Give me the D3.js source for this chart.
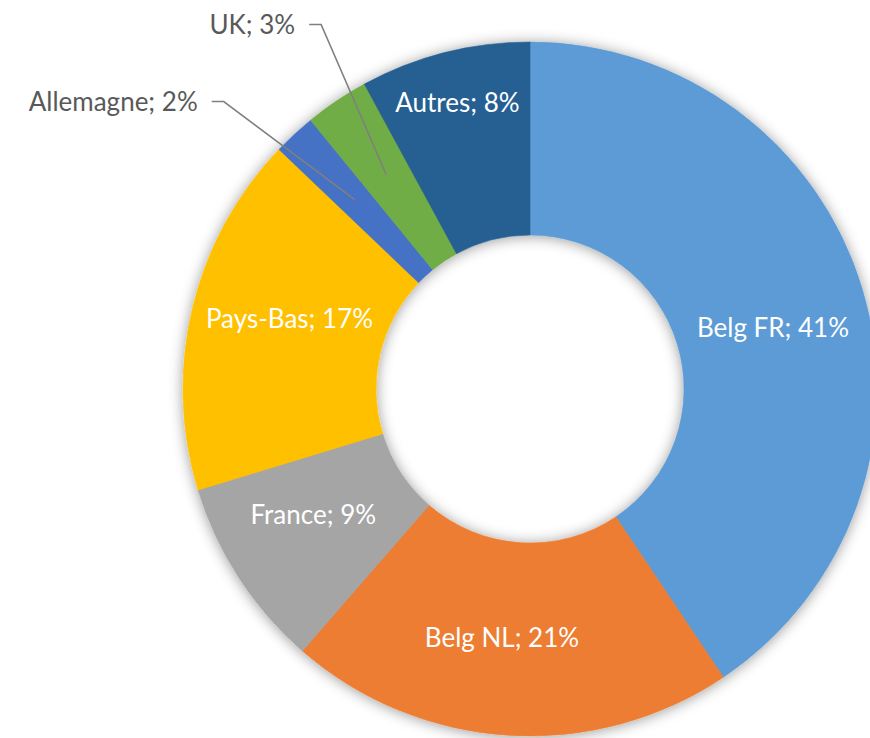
<!DOCTYPE html>
<html>
<head>
<meta charset="utf-8">
<script src="https://cdn.jsdelivr.net/npm/d3@7"></script>
<style>
  body { margin: 0; background: #fff; }
  #graf { width: 870px; height: 738px; }
  text { font-family: Lato, "Open Sans", sans-serif; }
</style>
</head>
<body>
<div id="graf"></div>
<script>
// -- Datos --
categorias = ['Belg FR', 'Belg NL', 'France', 'Pays-Bas', 'Allemagne', 'UK', 'Autres']
porcentajes = [41, 21, 9, 17, 2, 3, 8]
colores = ['#5B9BD5', '#ED7D31', '#A5A5A5', '#FFC000', '#4472C4', '#70AD47', '#255E91']

// Configuración del canvas
ancho_total = 870
alto_total = 738
cx = 530
cy = 389
radioExt = 347
radioInt = 154
tamLetra = '26px'

svg = d3.select('#graf').append('svg')
        .attr('width', ancho_total)
        .attr('height', alto_total)

defs = svg.append('defs')
sombra = defs.append('filter')
             .attr('id', 'sombra')
             .attr('x', '-20%').attr('y', '-20%')
             .attr('width', '140%').attr('height', '140%')
sombra.append('feDropShadow')
      .attr('dx', 0)
      .attr('dy', 1)
      .attr('stdDeviation', 7)
      .attr('flood-color', '#000')
      .attr('flood-opacity', 0.4)

g = svg.append('g')
       .attr('transform', `translate(${cx}, ${cy})`)

datos = categorias.map((c, i) => ({ nombre: c, valor: porcentajes[i], color: colores[i] }))

pie = d3.pie()
        .sort(null)
        .value(d => d.valor)

arco = d3.arc()
         .innerRadius(radioInt)
         .outerRadius(radioExt)

arcos = pie(datos)
total = d3.sum(datos, d => d.valor)

// -- Rebanadas --
g.append('g')
 .attr('filter', 'url(#sombra)')
 .selectAll('path')
 .data(arcos)
 .enter()
 .append('path')
   .attr('d', arco)
   .style('fill', d => d.data.color)
   .style('stroke', d => d.data.color)
   .style('stroke-width', 0.6)

// -- Etiquetas --
medio = d => (d.startAngle + d.endAngle) / 2
punto = (ang, r) => [Math.sin(ang) * r, -Math.cos(ang) * r]

afuera = arcos.filter(d => d.data.valor / total < 0.04)
dentro = arcos.filter(d => d.data.valor / total >= 0.04)

texto = d => `${d.data.nombre}; ${d.data.valor}%`

g.selectAll('.dentro')
 .data(dentro)
 .enter()
 .append('text')
   .attr('class', 'dentro')
   .attr('transform', d => {
       // rebanadas estrechas: etiqueta hacia el borde exterior
       estrecha = (d.endAngle - d.startAngle) < 0.53
       r = estrecha ? radioExt - 52 : (radioInt + radioExt) / 2
       p = punto(medio(d) + (estrecha ? 0 : 0.05), r)
       return `translate(${p[0]}, ${p[1]})`
   })
   .attr('text-anchor', 'middle')
   .attr('dy', '0.35em')
   .style('fill', '#fff')
   .style('font-size', tamLetra)
   .text(texto)

// separar etiquetas exteriores que quedan muy juntas
angulos = afuera.map(medio)
sepMin = 17 * Math.PI / 180
if (angulos.length == 2 && Math.abs(angulos[1] - angulos[0]) < sepMin) {
    m = (angulos[0] + angulos[1]) / 2
    s = angulos[1] > angulos[0] ? 1 : -1
    angulos[0] = m - s * sepMin / 2
    angulos[1] = m + s * sepMin / 2
}

radioLinea = 258
radioCodo = 420

afuera.forEach((d, i) => {
    p0 = punto(medio(d), radioLinea)
    p1 = punto(angulos[i], radioCodo)
    p2 = [p1[0] - 12, p1[1]]
    g.append('polyline')
     .attr('points', [p0, p1, p2].map(p => p.join(',')).join(' '))
     .style('fill', 'none')
     .style('stroke', '#7f7f7f')
     .style('stroke-width', 1.5)
    g.append('text')
     .attr('x', p2[0] - 14)
     .attr('y', p2[1])
     .attr('dy', '0.35em')
     .attr('text-anchor', 'end')
     .style('fill', '#595959')
     .style('font-size', tamLetra)
     .text(texto(d))
})
</script>
</body>
</html>
